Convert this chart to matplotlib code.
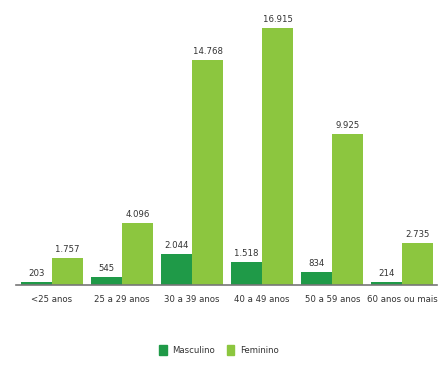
import numpy as np
import matplotlib.pyplot as plt
from matplotlib.patches import Patch
from matplotlib import font_manager

# Faixa etária por sexo
categories = ["<25 anos", "25 a 29 anos", "30 a 39 anos", "40 a 49 anos",
              "50 a 59 anos", "60 anos ou mais"]
masculino = [203, 545, 2044, 1518, 834, 214]
feminino = [1757, 4096, 14768, 16915, 9925, 2735]


def fmt(v):
    """thousands separator with a dot"""
    return f"{v:,}".replace(",", ".")


names = {f.name for f in font_manager.fontManager.ttflist}
if "Liberation Sans Narrow" in names:
    plt.rcParams["font.family"] = ["Liberation Sans Narrow", "DejaVu Sans"]
    fs = 7.5
else:
    plt.rcParams["font.family"] = ["DejaVu Sans"]
    plt.rcParams["font.stretch"] = "condensed"
    fs = 6.8

fig = plt.figure(figsize=(4.38, 3.78), dpi=100)
ax = fig.add_axes([0.037, 0.246, 0.96, 0.728])

x = np.arange(len(categories))
w = 0.443
dark = "#1f9a48"
light = "#8cc63f"
b1 = ax.bar(x - w / 2, masculino, w, color=dark)
b2 = ax.bar(x + w / 2, feminino, w, color=light)

for bars, vals in ((b1, masculino), (b2, feminino)):
    for rect, v in zip(bars, vals):
        ax.annotate(fmt(v), (rect.get_x() + rect.get_width() / 2, rect.get_height()),
                    xytext=(0, 3), textcoords="offset points",
                    ha="center", va="bottom", fontsize=fs, color="#333333")

ax.set_xlim(-0.51, 5.49)
ax.set_ylim(0, 18100)
ax.set_xticks(x)
ax.set_xticklabels(categories, fontsize=fs, color="#333333")
ax.tick_params(axis="x", length=0, pad=7)
ax.set_yticks([])
for s in ("top", "right", "left"):
    ax.spines[s].set_visible(False)
ax.spines["bottom"].set_color("#777777")
ax.spines["bottom"].set_linewidth(1.2)

handles = [Patch(color=dark, label="Masculino"), Patch(color=light, label="Feminino")]
fig.legend(handles=handles, loc="center", bbox_to_anchor=(0.5, 0.073), ncol=2,
           frameon=False, fontsize=fs, handlelength=0.8, handleheight=1.2,
           columnspacing=1.2, handletextpad=0.6, labelcolor="#333333")

fig.savefig("out.png", dpi=100, facecolor="white")
